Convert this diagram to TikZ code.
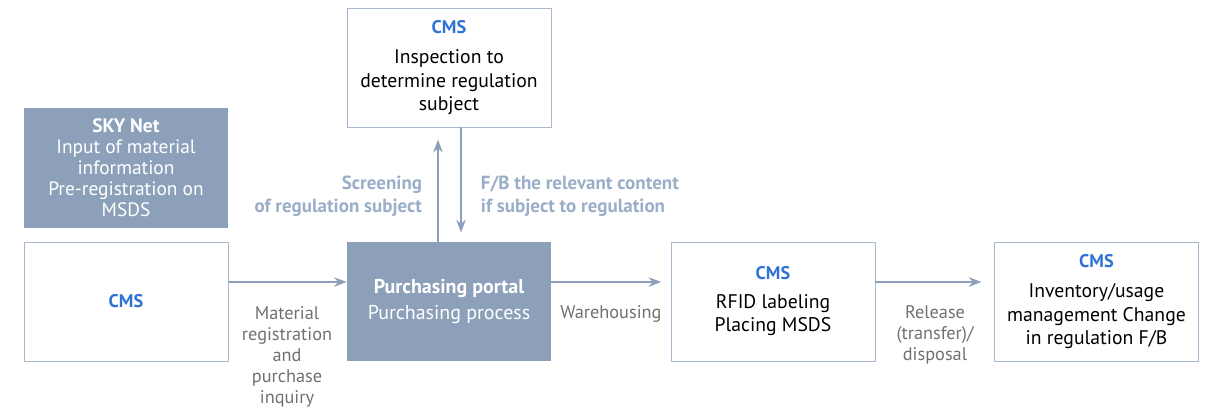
\documentclass[tikz,border=0pt]{standalone}
\usepackage{fontspec}
\setmainfont{PT Sans}
\usetikzlibrary{positioning,calc,arrows.meta}
\definecolor{portal}{HTML}{8DA0BA}
\definecolor{frame}{HTML}{A9B8CC}
\definecolor{cmsblue}{HTML}{2F72D6}
\definecolor{note}{HTML}{9AAEC8}
\definecolor{flow}{HTML}{707070}
\tikzset{>={Stealth[length=3.2mm,width=2.4mm]}}

\begin{document}
\begin{tikzpicture}[
    x=0.025cm, y=-0.025cm,
    font=\fontsize{14pt}{16.5pt}\selectfont,
    plain/.style={rectangle, draw=frame, line width=0.6pt, fill=white, minimum width=5.1cm, minimum height=2.975cm, align=center, inner sep=2pt},
    filled/.style={rectangle, fill=portal, text=white, minimum width=5.1cm, minimum height=2.975cm, align=center, inner sep=2pt},
    flowlabel/.style={text=flow, align=center, font=\fontsize{13pt}{15pt}\selectfont},
    notelabel/.style={text=note, font=\fontsize{13.5pt}{16.3pt}\selectfont\bfseries},
    link/.style={->, draw=portal, line width=0.9pt}
]
\useasboundingbox (0,0) rectangle (1212,413);

\node[filled, font=\fontsize{13.8pt}{15pt}\selectfont] (skynet) at (126,168) {\textbf{SKY Net}\\Input of material\\information\\Pre-registration on\\MSDS};
\node[plain] (cmsleft) at (126,301.5) {\textcolor{cmsblue}{\fontsize{13pt}{15pt}\selectfont\textbf{CMS}}};
\node[plain] (inspect) at (449,67.5) {\textcolor{cmsblue}{\fontsize{13pt}{15pt}\selectfont\textbf{CMS}}\\[5pt]Inspection to\\determine regulation\\subject};
\node[filled, font=\fontsize{14.2pt}{18pt}\selectfont] (portal) at (449,301.5) {\textbf{Purchasing portal}\\Purchasing process};
\node[plain] (rfid) at (773,301.5) {\textcolor{cmsblue}{\fontsize{13pt}{15pt}\selectfont\textbf{CMS}}\\[4pt]RFID labeling\\Placing MSDS};
\node[plain] (stock) at (1096.5,301.5) {\textcolor{cmsblue}{\fontsize{13pt}{15pt}\selectfont\textbf{CMS}}\\[5pt]Inventory/usage\\management Change\\in regulation F/B};

% connectors between the steps
\draw[link] (cmsleft.east |- 0,282) -- (portal.west |- 0,282);
\draw[link] (portal.east |- 0,282) -- ++(110,0) coordinate (tip1);
\draw[link] (rfid.east |- 0,282) -- ++(106,0) coordinate (tip2);
\draw[link] (portal.north -| 438,0) -- ++(0,-102);
\draw[link] (inspect.south -| 461,0) -- ++(0,105);

\node[flowlabel] (reg) at (287,357) {Material\\registration\\and\\purchase\\inquiry};
\node[flowlabel] (ware) at (611,314) {Warehousing};
\node[flowlabel] (release) at (935,335) {Release\\(transfer)/\\disposal};
\node[notelabel, align=right, anchor=east] (screen) at (427,196) {Screening\\of regulation subject};
\node[notelabel, align=left, anchor=west] (feedback) at (476,196) {F/B the relevant content\\if subject to regulation};
\end{tikzpicture}
\end{document}
